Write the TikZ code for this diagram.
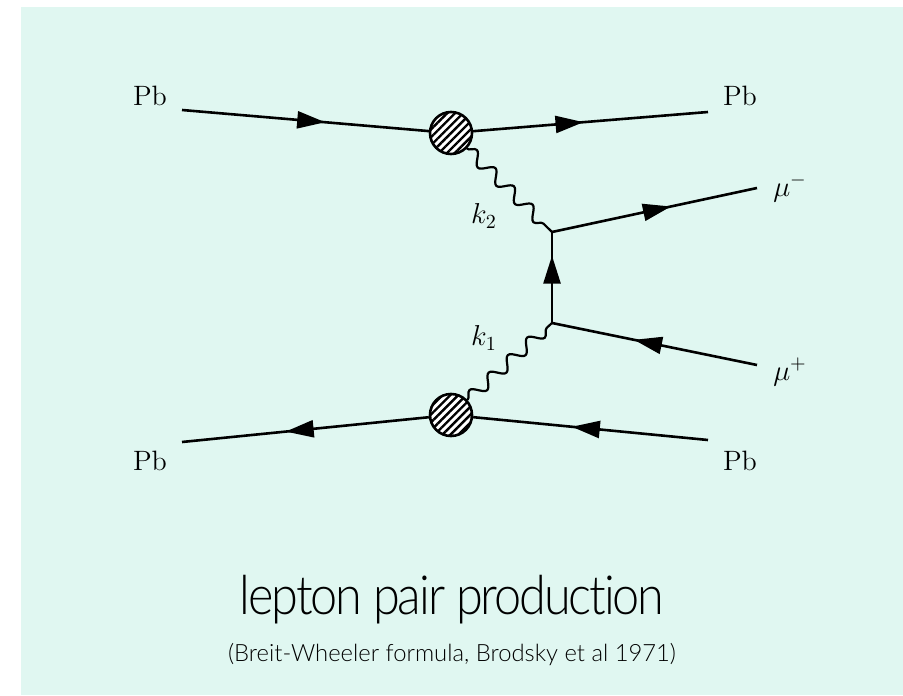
\documentclass[tikz,border=0pt]{standalone}
\usepackage{fontspec}
\newfontfamily\titlefont[Ligatures=NoCommon, LetterSpace=-4, FakeStretch=0.9]{Lato Light}
\newfontfamily\subfont[Ligatures=NoCommon]{Lato Light}
\usetikzlibrary{decorations.markings,decorations.pathmorphing,arrows.meta,patterns.meta}
\definecolor{bgmint}{RGB}{224,247,241}

\begin{document}
\begin{tikzpicture}[
  x=0.5pt, y=-0.5pt,
  lbl/.style={font=\fontsize{14}{16}\selectfont, inner sep=0pt},
  fermion/.style={draw, line width=1.3pt, postaction={decorate},
                  decoration={markings, mark=at position #1 with {\arrow{Triangle[length=14pt,width=8.5pt]}}}},
  fermion/.default=0.58,
  photon/.style={draw, line width=1.1pt, decorate,
                 decoration={snake, segment length=13pt, amplitude=3pt}},
  blob/.style={circle, draw, line width=1.3pt, minimum size=21pt, inner sep=0pt,
               preaction={fill=white}, pattern={Lines[angle=45, distance=2.8pt, line width=1.2pt]}}
]
\useasboundingbox (0,0) rectangle (903,695);
\fill[bgmint] (21,7) rectangle (903,695);

% vertices and free ends
\node[blob] (topblob) at (451,133) {};
\node[blob] (botblob) at (451,415) {};
\coordinate (pbtl) at (182,110);
\coordinate (pbtr) at (708,112);
\coordinate (pbbl) at (182,442);
\coordinate (pbbr) at (708,440);
\coordinate (vtop) at (552,232);
\coordinate (vbot) at (552,323);
\coordinate (mum) at (757,188);
\coordinate (mup) at (757,365);

% ion lines
\draw[fermion] (pbtl) -- (topblob);
\draw[fermion=0.47] (topblob) -- (pbtr);
\draw[fermion] (botblob) -- (pbbl);
\draw[fermion] (pbbr) -- (botblob);

% photons
\draw[photon] (topblob) -- (vtop);
\draw[photon] (botblob) -- (vbot);

% lepton line
\draw[fermion] (vtop) -- (mum);
\draw[fermion=0.74] (vbot) -- (vtop);
\draw[fermion=0.6] (mup) -- (vbot);

% labels
\node[lbl] (tpb1) at (150,96) {Pb};
\node[lbl] (tpb2) at (740,96) {Pb};
\node[lbl] (tpb3) at (150,461) {Pb};
\node[lbl] (tpb4) at (740,461) {Pb};
\node[lbl] (tmum) at (790,188) {$\mu^-$};
\node[lbl] (tmup) at (790,372) {$\mu^+$};
\node[lbl] (tk2) at (484,216) {$k_2$};
\node[lbl] (tk1) at (484,338) {$k_1$};

\node[inner sep=0pt] (title) at (452,600) {\titlefont\fontsize{27}{30}\selectfont lepton pair production};
\node[inner sep=0pt] (subtitle) at (452,655) {\subfont\fontsize{11.9}{14}\selectfont (Breit-Wheeler formula, Brodsky et al 1971)};
\end{tikzpicture}
\end{document}
